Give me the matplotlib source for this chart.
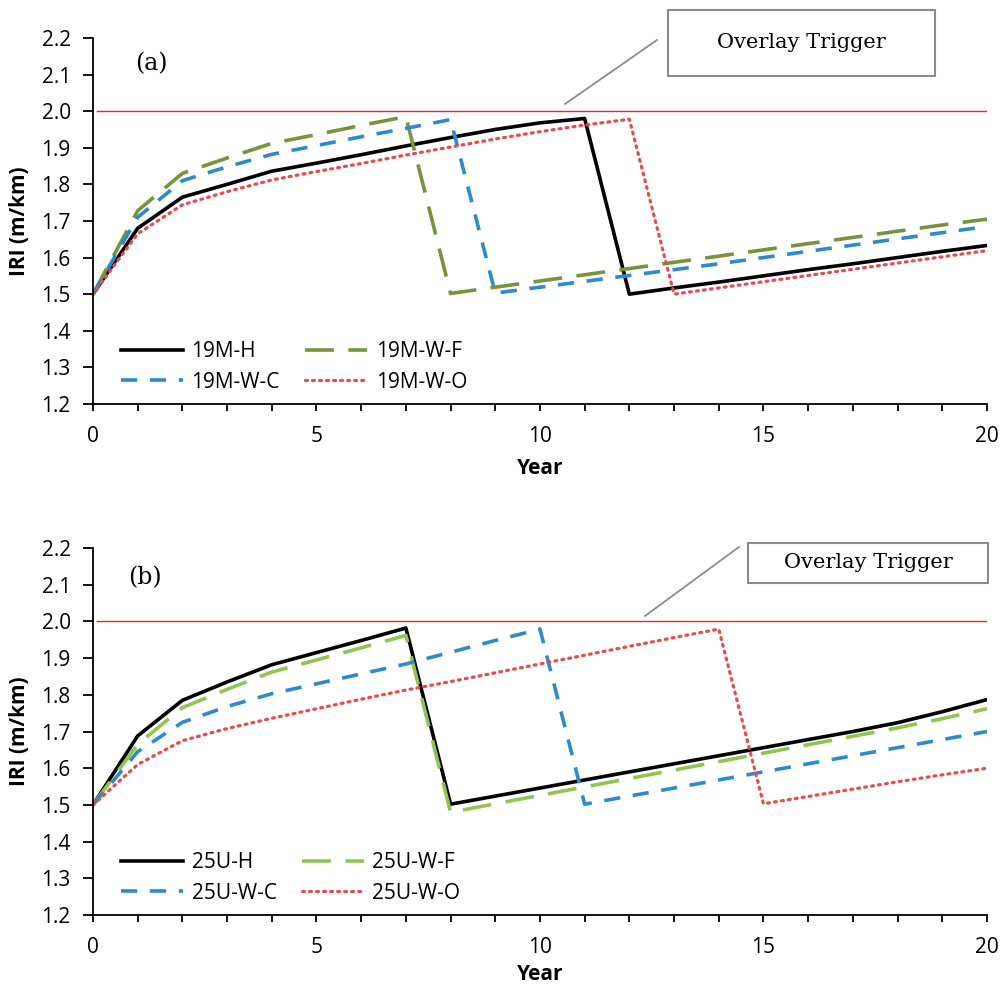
import numpy as np
import matplotlib
matplotlib.use('Agg')
from matplotlib import pyplot as plt
from matplotlib.ticker import MultipleLocator
from matplotlib.patches import Rectangle

years = np.arange(0, 21)

# panel (a)
m_h = [1.5, 1.68, 1.765, 1.80, 1.836, 1.858, 1.881, 1.905, 1.928, 1.95, 1.968, 1.98,
       1.5, 1.517, 1.533, 1.55, 1.567, 1.583, 1.6, 1.617, 1.633]
m_wf = [1.5, 1.728, 1.83, 1.872, 1.912, 1.936, 1.961, 1.985,
        1.502, 1.519, 1.536, 1.553, 1.570, 1.587, 1.604, 1.621, 1.638, 1.655, 1.672, 1.689, 1.705]
m_wc = [1.5, 1.71, 1.81, 1.848, 1.882, 1.906, 1.93, 1.953, 1.977,
        1.503, 1.519, 1.535, 1.551, 1.567, 1.583, 1.6, 1.617, 1.634, 1.651, 1.668, 1.685]
m_wo = [1.5, 1.665, 1.744, 1.78, 1.812, 1.835, 1.857, 1.88, 1.902, 1.924, 1.944, 1.962, 1.978,
        1.5, 1.517, 1.534, 1.551, 1.568, 1.585, 1.602, 1.619]

# panel (b)
u_h = [1.5, 1.688, 1.785, 1.835, 1.882, 1.915, 1.948, 1.982,
       1.502, 1.524, 1.546, 1.568, 1.59, 1.612, 1.634, 1.656, 1.678, 1.7, 1.724, 1.754, 1.787]
u_wf = [1.5, 1.665, 1.765, 1.815, 1.862, 1.895, 1.928, 1.962,
        1.48, 1.503, 1.526, 1.549, 1.572, 1.595, 1.618, 1.641, 1.664, 1.687, 1.71, 1.735, 1.762]
u_wc = [1.5, 1.645, 1.725, 1.768, 1.803, 1.83, 1.857, 1.884, 1.916, 1.948, 1.979,
        1.502, 1.524, 1.546, 1.568, 1.59, 1.612, 1.634, 1.656, 1.678, 1.7]
u_wo = [1.5, 1.61, 1.675, 1.708, 1.736, 1.762, 1.788, 1.813, 1.836, 1.86, 1.884, 1.908, 1.932, 1.956, 1.979,
        1.503, 1.523, 1.543, 1.563, 1.582, 1.6]

trigger = 2.0

W, H = 1003, 986
fig = plt.figure(figsize=(W / 100, H / 100), dpi=100)
ax1 = fig.add_axes([0.0927, 0.5903, 0.8913, 0.3712])
ax2 = fig.add_axes([0.0927, 0.072, 0.8913, 0.3722])

tick_font = 'Open Sans'


def style_axis(ax, xpad):
    ax.set_xlim(0, 20)
    ax.set_ylim(1.2, 2.2)
    ax.spines['top'].set_visible(False)
    ax.spines['right'].set_visible(False)
    ax.spines['left'].set_linewidth(1.3)
    ax.spines['bottom'].set_linewidth(1.3)
    ax.xaxis.set_major_locator(MultipleLocator(5))
    ax.xaxis.set_minor_locator(MultipleLocator(1))
    ax.set_yticks(np.round(np.arange(1.2, 2.21, 0.1), 1))
    ax.set_yticklabels(['%.1f' % v for v in np.arange(1.2, 2.21, 0.1)])
    ax.tick_params(axis='x', which='both', direction='out', length=5, width=1.3,
                   labelsize=15, pad=11)
    ax.tick_params(axis='y', which='both', direction='out', length=7, width=1.3,
                   labelsize=15, pad=9)
    for lab in ax.get_xticklabels() + ax.get_yticklabels():
        lab.set_fontfamily(tick_font)
    ax.set_xlabel('Year', fontsize=15, fontweight='bold', family=tick_font, labelpad=xpad)
    ax.set_ylabel('IRI (m/km)', fontsize=15, fontweight='bold', family=tick_font, labelpad=8)


def callout(x0, x1, y0, y1, line_pts):
    # box in pixel coords (top-left origin), converted to figure fraction
    fig.add_artist(Rectangle((x0 / W, 1 - y1 / H), (x1 - x0) / W, (y1 - y0) / H,
                             transform=fig.transFigure, fc='white', ec='#8C8C8C', lw=1.5))
    fig.text((x0 + x1) / 2 / W, 1 - (y0 + y1) / 2 / H, 'Overlay Trigger', fontsize=15,
             family='DejaVu Serif', ha='center', va='center')
    (a0, b0), (a1, b1) = line_pts
    fig.add_artist(plt.Line2D([a0 / W, a1 / W], [1 - b0 / H, 1 - b1 / H],
                              color='#8C8C8C', lw=1.3))


panels = [
    (ax1, [m_h, m_wf, m_wc, m_wo], ['19M-H', '19M-W-F', '19M-W-C', '19M-W-O'], '#77933C', '(a)',
     (0.047, 0.93), (668, 935, 10, 76), ((565, 104), (657, 40)), 8),
    (ax2, [u_h, u_wf, u_wc, u_wo], ['25U-H', '25U-W-F', '25U-W-C', '25U-W-O'], '#92C353', '(b)',
     (0.039, 0.918), (748, 988, 543, 583), ((645, 616), (739, 547)), 4),
]

for ax, series, labels, green, tag, tag_xy, box, line_pts, xpad in panels:
    ax.axhline(trigger, xmin=0.005, xmax=1, color='#E8262A', lw=1.0)
    lh, = ax.plot(years, series[0], color='black', lw=2.6, label=labels[0])
    lf, = ax.plot(years, series[1], color=green, lw=2.6, dashes=(8, 4), label=labels[1])
    lc, = ax.plot(years, series[2], color='#2D8BCB', lw=2.6, dashes=(4.5, 3.5), label=labels[2])
    lo, = ax.plot(years, series[3], color='#E84B4B', lw=2.3, dashes=(0.6, 1.6),
                  dash_capstyle='round', label=labels[3])
    style_axis(ax, xpad)
    ax.legend(handles=[lh, lc, lf, lo], ncol=2, frameon=False, loc='lower left',
              bbox_to_anchor=(0.01, -0.02), handlelength=3.0,
              columnspacing=1.2, handletextpad=0.4, labelspacing=0.45,
              prop={'family': tick_font, 'size': 15})
    ax.text(tag_xy[0], tag_xy[1], tag, transform=ax.transAxes, fontsize=17,
            family='DejaVu Serif', va='center')
    callout(*box, line_pts)

fig.savefig('out.png', dpi=100)
